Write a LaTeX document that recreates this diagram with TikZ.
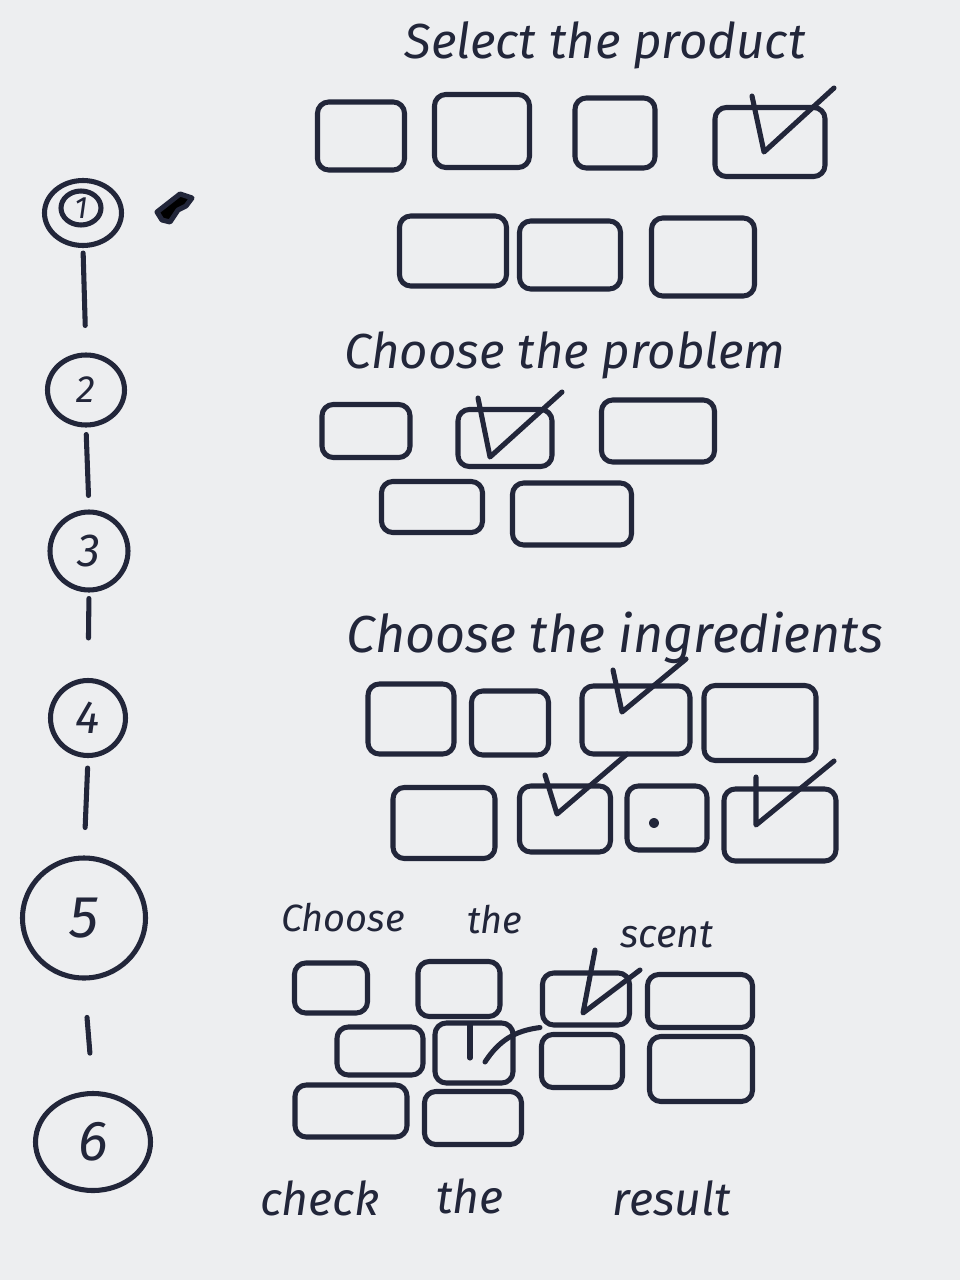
\documentclass[tikz,border=0pt]{standalone}
\usepackage{fontspec}
\setmainfont{Fira Sans}
\usetikzlibrary{shapes.geometric,calc}
\definecolor{ink}{HTML}{22263A}
\definecolor{board}{HTML}{EDEEF0}

\begin{document}
\begin{tikzpicture}[x=0.025cm,y=-0.025cm,
        ink/.style={draw=ink,line width=3.6pt,line cap=round,line join=round},
        stage/.style={ellipse,ink,inner sep=0pt,text=ink,font=\itshape\fontsize{33}{33}\selectfont},
        slot/.style 2 args={rectangle,ink,rounded corners=8pt,inner sep=0pt,minimum width=#1*0.025cm,minimum height=#2*0.025cm},
        title/.style={text=ink,inner sep=0pt,font=\itshape\fontsize{35}{35}\selectfont}]
    \fill[board] (0,0) rectangle (960,1280);

    % steps on the left
    \node[stage,minimum width=77*0.025cm,minimum height=65*0.025cm] (c1) at (83,213) {};
    \node[stage,minimum width=40*0.025cm,minimum height=34*0.025cm,font=\itshape\fontsize{22}{22}\selectfont] (c1in) at (81,208) {1};
    \node[stage,minimum width=77*0.025cm,minimum height=70*0.025cm,font=\itshape\fontsize{27}{27}\selectfont] (c2) at (86,390) {2};
    \node[stage,minimum width=78*0.025cm,minimum height=78*0.025cm] (c3) at (89,551) {3};
    \node[stage,minimum width=75*0.025cm,minimum height=75*0.025cm] (c4) at (88,718) {4};
    \node[stage,minimum width=123*0.025cm,minimum height=120*0.025cm,font=\itshape\fontsize{42}{42}\selectfont] (c5) at (84,918) {5};
    \node[stage,minimum width=115*0.025cm,minimum height=97*0.025cm,font=\itshape\fontsize{40}{40}\selectfont] (c6) at (93,1142) {6};
    \draw[ink,shorten <=0.125cm,shorten >=0.675cm] (c1.south) -- (c2.north);
    \draw[ink,shorten <=0.175cm,shorten >=0.35cm] (c2.south) -- (c3.north);
    \draw[ink,shorten <=0.15cm,shorten >=1cm] (c3.south) -- (c4.north);
    \draw[ink,shorten <=0.25cm,shorten >=0.7cm] (c4.south) -- (c5.north);
    \draw[ink,shorten <=0.925cm,shorten >=0.95cm] (c5.south) -- (c6.north);
    \fill[ink] (157,212) -- (180,194) -- (192,198) -- (186,206) -- (178,210) -- (170,222) -- (162,220) -- cycle;

    % select the product
    \node[title] (tprod) at (605,45) {Select the product};
    \node[slot={87}{68}] (b1) at (361,136) {};
    \node[slot={95}{73}] (b2) at (482,131) {};
    \node[slot={80}{70}] (b3) at (615,133) {};
    \node[slot={110}{69}] (b4) at (770,142) {};
    \node[slot={107}{70}] (b5) at (453,251) {};
    \node[slot={101}{68}] (b6) at (570,255) {};
    \node[slot={103}{78}] (b7) at (703,257) {};
    \draw[ink] (752,96) -- (764,152) -- (834,88);

    % choose the problem
    \node[title] (tprob) at (565,355) {Choose the problem};
    \node[slot={88}{53}] (p1) at (366,431) {};
    \node[slot={94}{57}] (p2) at (505,438) {};
    \node[slot={113}{62}] (p3) at (658,431) {};
    \node[slot={101}{51}] (p4) at (432,507) {};
    \node[slot={119}{62}] (p5) at (572,514) {};
    \draw[ink] (478,398) -- (490,457) -- (562,392);

    % choose the ingredients
    \node[title,font=\itshape\fontsize{37}{37}\selectfont] (tingr) at (615,638) {Choose the ingredients};
    \node[slot={86}{70}] (i1) at (411,719) {};
    \node[slot={77}{64}] (i2) at (510,723) {};
    \node[slot={108}{68}] (i3) at (636,720) {};
    \node[slot={112}{75}] (i4) at (760,723) {};
    \node[slot={102}{71}] (i5) at (444,823) {};
    \node[slot={91}{66}] (i6) at (565,819) {};
    \node[slot={80}{64}] (i7) at (667,818) {};
    \node[slot={112}{72}] (i8) at (780,825) {};
    \draw[ink] (613,670) -- (622,712) -- (686,659);
    \draw[ink] (545,775) -- (557,814) -- (627,754);
    \draw[ink] (756,777) -- (756,825) -- (834,761);
    \fill[ink] (654,823) circle (2.5);

    % choose the scent
    \node[title,font=\itshape\fontsize{27}{27}\selectfont] (tsc1) at (343,918) {Choose};
    \node[title,font=\itshape\fontsize{27}{27}\selectfont] (tsc2) at (495,920) {the};
    \node[title,font=\itshape\fontsize{28}{28}\selectfont] (tsc3) at (667,935) {scent};
    \node[slot={73}{50}] (s1) at (331,988) {};
    \node[slot={82}{55}] (s2) at (459,989) {};
    \node[slot={87}{52}] (s3) at (586,999) {};
    \node[slot={105}{53}] (s4) at (700,1001) {};
    \node[slot={86}{48}] (s5) at (380,1051) {};
    \node[slot={78}{60}] (s6) at (474,1053) {};
    \node[slot={81}{53}] (s7) at (582,1061) {};
    \node[slot={103}{65}] (s8) at (701,1069) {};
    \node[slot={112}{52}] (s9) at (351,1111) {};
    \node[slot={97}{53}] (s10) at (473,1118) {};
    \draw[ink] (595,950) -- (583,1013) -- (640,970);
    \draw[ink] (470,1025) -- (470,1058);
    \draw[ink] ($(s6.center)+(11,9)$) to[bend left=25] (s3.south west);

    % check the result
    \node[title,font=\itshape\fontsize{33}{33}\selectfont] (tres1) at (320,1198) {check};
    \node[title,font=\itshape\fontsize{33}{33}\selectfont] (tres2) at (470,1196) {the};
    \node[title,font=\itshape\fontsize{33}{33}\selectfont] (tres3) at (672,1198) {result};
\end{tikzpicture}
\end{document}
